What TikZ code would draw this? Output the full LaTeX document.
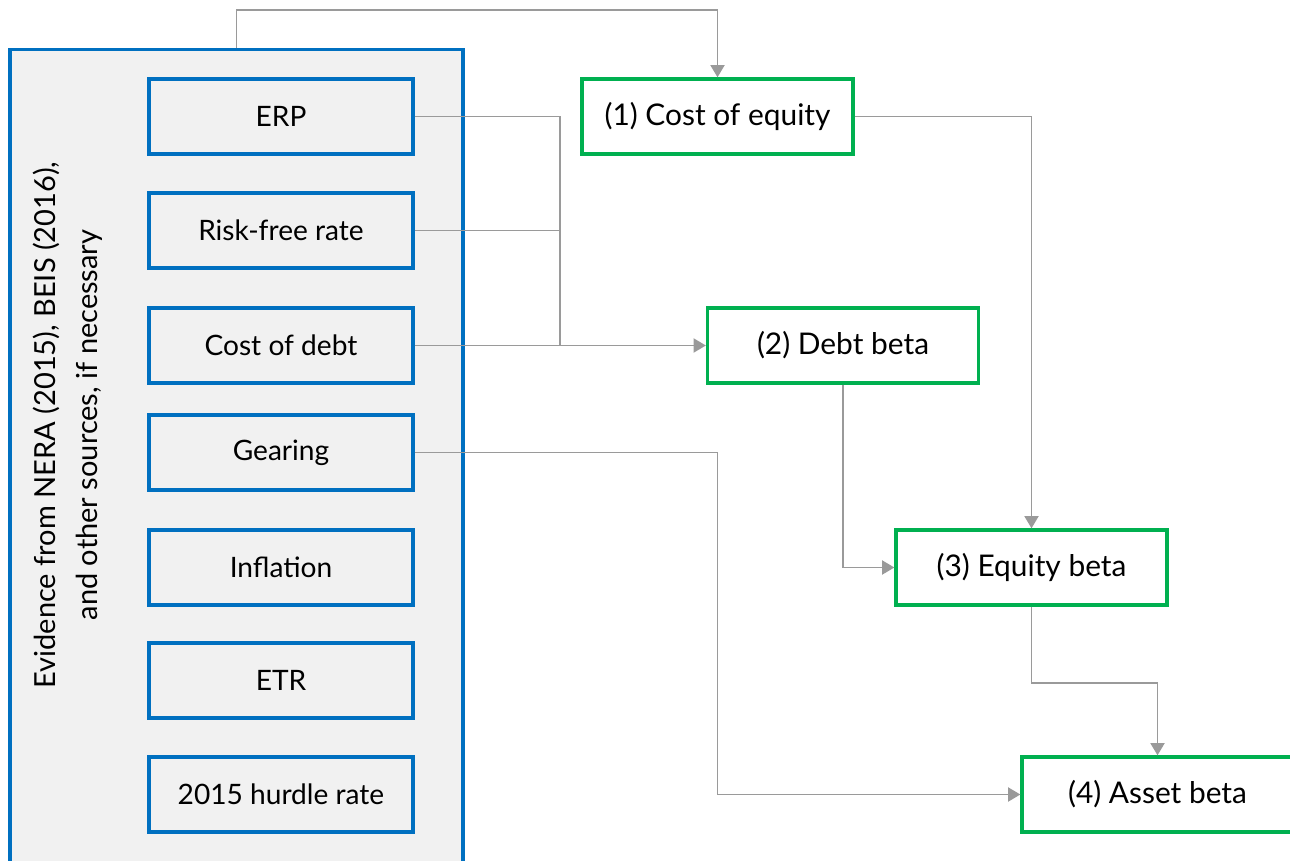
\documentclass[tikz,border=0pt]{standalone}
\usepackage{fontspec}
\setmainfont{Lato}
\usetikzlibrary{arrows.meta}

\definecolor{boxblue}{HTML}{0070C0}
\definecolor{boxgreen}{HTML}{00B050}
\definecolor{panelgray}{HTML}{F1F1F1}
\definecolor{linegray}{HTML}{9A9A9A}

\begin{document}
\begin{tikzpicture}[x=0.02cm,y=-0.02cm,
  inbox/.style={draw=boxblue,line width=1.9pt,fill=panelgray,minimum width=5.28cm,minimum height=1.5cm,inner sep=0pt,font=\fontsize{16}{19}\selectfont},
  outbox/.style={draw=boxgreen,line width=1.9pt,fill=white,minimum width=5.42cm,minimum height=1.5cm,inner sep=0pt,font=\fontsize{17}{21}\selectfont},
  link/.style={draw=linegray,line width=1.1pt},
  arr/.style={link,-{Triangle[width=8pt,length=7pt]}}]

\useasboundingbox (0,0) rectangle (1290,861) ;

% evidence panel
\node [draw=boxblue,line width=1.9pt,fill=panelgray,minimum width=9.06cm,minimum height=17cm,inner sep=0pt,anchor=north] (evid) at (236.5,48) {} ;
\node [rotate=90,align=center,font=\fontsize{16.5}{24}\selectfont] (evtext) at (68,425) {Evidence from NERA (2015), BEIS (2016),\\ and other sources, if necessary} ;

% inputs
\node [inbox] (erp) at (281,116.5) {ERP} ;
\node [inbox] (rfr) at (281,230.5) {Risk-free rate} ;
\node [inbox] (cod) at (281,345.5) {Cost of debt} ;
\node [inbox] (gear) at (281,452.5) {Gearing} ;
\node [inbox] (infl) at (281,567.5) {Inflation} ;
\node [inbox] (etr) at (281,680.5) {ETR} ;
\node [inbox] (hurdle) at (281,794.5) {2015 hurdle rate} ;

% steps
\node [outbox] (coe) at (717.5,116.5) {(1) Cost of equity} ;
\node [outbox] (db) at (843,345.5) {(2) Debt beta} ;
\node [outbox] (eb) at (1031.5,567.5) {(3) Equity beta} ;
\node [outbox] (ab) at (1157.5,794.5) {(4) Asset beta} ;

\coordinate (jn) at (560,345.5) ;

\draw [arr] (evid.north) -- ++(0,-38) -| (coe.north) ;
\draw [link] (erp.east) -| (jn) ;
\draw [link] (rfr.east) -| (jn) ;
\draw [arr] (cod.east) -- (db.west) ;
\draw [arr] (coe.east) -| (eb.north) ;
\draw [arr] (db.south) |- (eb.west) ;
\draw [arr] (gear.east) -| (coe.south |- ab.west) -- (ab.west) ;
\draw [arr] (eb.south) -- ++(0,76) -| (ab.north) ;

\end{tikzpicture}
\end{document}
